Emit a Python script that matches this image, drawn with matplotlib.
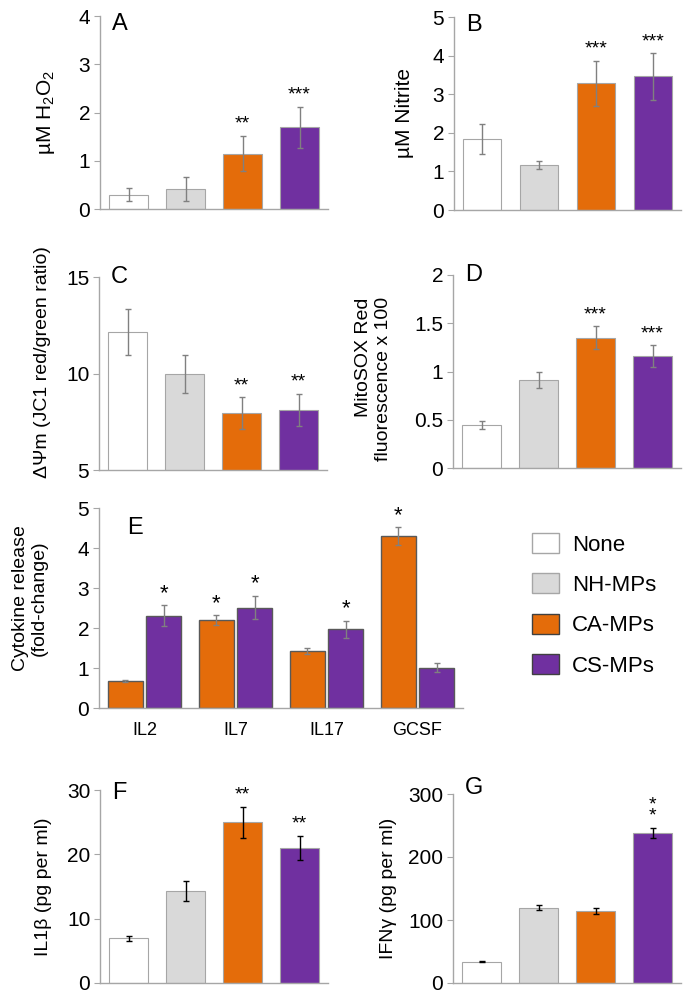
import numpy as np
import matplotlib.pyplot as plt
from matplotlib.patches import Patch

plt.rcParams['font.family'] = ['Liberation Sans', 'DejaVu Sans']
plt.rcParams['mathtext.fontset'] = 'custom'
plt.rcParams['mathtext.rm'] = 'Liberation Sans'

# groups / colours
groups = ['None', 'NH-MPs', 'CA-MPs', 'CS-MPs']
colors = ['#ffffff', '#d9d9d9', '#e46c0a', '#7030a0']

# A - H2O2
h2o2 = [0.30, 0.41, 1.15, 1.69]
h2o2_err = [0.14, 0.245, 0.37, 0.43]
h2o2_sig = ['', '', '**', '***']

# B - nitrite
nitrite = [1.83, 1.17, 3.28, 3.46]
nitrite_err = [0.39, 0.10, 0.59, 0.60]
nitrite_sig = ['', '', '***', '***']

# C - JC1 ratio
jc1 = [12.16, 9.97, 7.96, 8.13]
jc1_err = [1.2, 1.0, 0.83, 0.83]
jc1_sig = ['', '', '**', '**']

# D - MitoSOX
mitosox = [0.445, 0.91, 1.35, 1.16]
mitosox_err = [0.045, 0.08, 0.12, 0.11]
mitosox_sig = ['', '', '***', '***']

# E - cytokines (fold change), CA and CS only
cytokines = ['IL2', 'IL7', 'IL17', 'GCSF']
cyto_ca = [0.67, 2.20, 1.42, 4.30]
cyto_ca_err = [0.03, 0.12, 0.07, 0.22]
cyto_ca_sig = ['', '*', '', '*']
cyto_cs = [2.31, 2.51, 1.97, 1.01]
cyto_cs_err = [0.26, 0.29, 0.21, 0.11]
cyto_cs_sig = ['*', '*', '*', '']

# F - IL1b
il1b = [6.95, 14.35, 24.98, 21.0]
il1b_err = [0.4, 1.55, 2.45, 1.9]
il1b_sig = ['', '', '**', '**']

# G - IFNg
ifng = [33.8, 119.5, 114.8, 238.6]
ifng_err = [1.0, 4.0, 5.0, 8.0]
ifng_sig = ['', '', '', '*\n*']

W, H = 692, 999
fig = plt.figure(figsize=(W / 100, H / 100), dpi=100)
SPINE = '#a6a6a6'


def add_ax(l, t, r, b):
    return fig.add_axes([l / W, 1 - b / H, (r - l) / W, (b - t) / H])


def style(ax, ylim, yticks, ylabel, lab_x, lab_y=0.5):
    for s in ['top', 'right']:
        ax.spines[s].set_visible(False)
    for s in ['left', 'bottom']:
        ax.spines[s].set_color(SPINE)
        ax.spines[s].set_linewidth(1)
    ax.set_ylim(*ylim)
    ax.set_yticks(yticks)
    ax.set_yticklabels(['%g' % t for t in yticks])
    ax.tick_params(axis='y', length=4, color=SPINE, labelsize=15, pad=3)
    ax.tick_params(axis='x', length=0, labelbottom=False)
    ax.set_ylabel(ylabel, fontsize=15, va='center', multialignment='center')
    ax.yaxis.set_label_coords(lab_x, lab_y)


def panel(rect, vals, errs, sig, ylim, yticks, ylabel, lab_x, letter, let_y,
          ecol='#808080', lab_y=0.5, lab_fs=15, star_fs=14):
    ax = add_ax(*rect)
    x = np.arange(len(vals))
    ax.bar(x, vals, 0.67, color=colors, edgecolor=SPINE, linewidth=0.8)
    ax.errorbar(x, vals, yerr=errs, fmt='none', ecolor=ecol, elinewidth=1,
                capsize=2.5, capthick=1)
    for xi, v, e, s in zip(x, vals, errs, sig):
        if s:
            ax.annotate(s, (xi, v + e), xytext=(0, 2), textcoords='offset points',
                        ha='center', va='bottom', fontsize=star_fs, linespacing=0.6)
    ax.set_xlim(-0.5, 3.5)
    style(ax, ylim, yticks, ylabel, lab_x, lab_y)
    ax.yaxis.label.set_fontsize(lab_fs)
    ax.text(0.053, let_y, letter, transform=ax.transAxes, fontsize=17,
            ha='left', va='center')
    return ax


panel((100, 16, 328, 209), h2o2, h2o2_err, h2o2_sig, (0, 4), [0, 1, 2, 3, 4],
      'µM H$\\mathregular{_2}$O$\\mathregular{_2}$', -0.237, 'A', 0.96)
panel((454, 17, 681, 210), nitrite, nitrite_err, nitrite_sig, (0, 5), [0, 1, 2, 3, 4, 5],
      'µM Nitrite', -0.22, 'B', 0.96)
panel((99, 277, 327, 470), jc1, jc1_err, jc1_sig, (5, 15), [5, 10, 15],
      'ΔΨm (JC1 red/green ratio)', -0.246, 'C', 1.0, lab_y=0.56, lab_fs=14)
axd = panel((453, 275, 681, 468), mitosox, mitosox_err, mitosox_sig, (0, 2),
            [0, 0.5, 1, 1.5, 2], 'MitoSOX Red\nfluorescence x 100', -0.35, 'D', 1.0,
            lab_y=0.46, lab_fs=14)
axd.yaxis.label.set_multialignment('right')
panel((100, 790, 328, 983), il1b, il1b_err, il1b_sig, (0, 30), [0, 10, 20, 30],
      'IL1β (pg per ml)', -0.25, 'F', 0.985, ecol='black', lab_fs=14)
panel((453, 794, 681, 983), ifng, ifng_err, ifng_sig, (0, 300), [0, 100, 200, 300],
      'IFNγ (pg per ml)', -0.285, 'G', 1.03, ecol='black', lab_fs=14)

# E - cytokines
axe = add_ax(99, 508, 463, 708)
xe = np.arange(len(cytokines))
for off, vals, errs, sig, c in [(-0.21, cyto_ca, cyto_ca_err, cyto_ca_sig, colors[2]),
                                (0.21, cyto_cs, cyto_cs_err, cyto_cs_sig, colors[3])]:
    axe.bar(xe + off, vals, 0.39, color=c, edgecolor='#595959', linewidth=1)
    axe.errorbar(xe + off, vals, yerr=errs, fmt='none', ecolor='#808080',
                 elinewidth=1, capsize=2.5, capthick=1)
    for xi, v, e, s in zip(xe + off, vals, errs, sig):
        if s:
            axe.annotate(s, (xi, v + e), xytext=(0, 1), textcoords='offset points',
                         ha='center', va='bottom', fontsize=16)
axe.set_xlim(-0.5, 3.5)
style(axe, (0, 5), [0, 1, 2, 3, 4, 5], 'Cytokine release\n(fold-change)', -0.19, 0.55)
axe.yaxis.label.set_fontsize(14)
axe.set_xticks(xe)
axe.set_xticklabels(cytokines)
axe.tick_params(axis='x', labelbottom=True, labelsize=13, pad=10)
axe.text(0.077, 0.9, 'E', transform=axe.transAxes, fontsize=17, ha='left', va='center')

# legend
edges = [SPINE, SPINE, '#404040', '#404040']
handles = [Patch(facecolor=c, edgecolor=e, linewidth=1) for c, e in zip(colors, edges)]
fig.legend(handles, groups, loc='upper left', bbox_to_anchor=(532 / W, 1 - 533 / H),
           frameon=False, fontsize=16, handlelength=1.2, handleheight=1.0,
           handletextpad=0.6, labelspacing=0.8, borderpad=0, borderaxespad=0)

fig.savefig('out.png', dpi=100)
